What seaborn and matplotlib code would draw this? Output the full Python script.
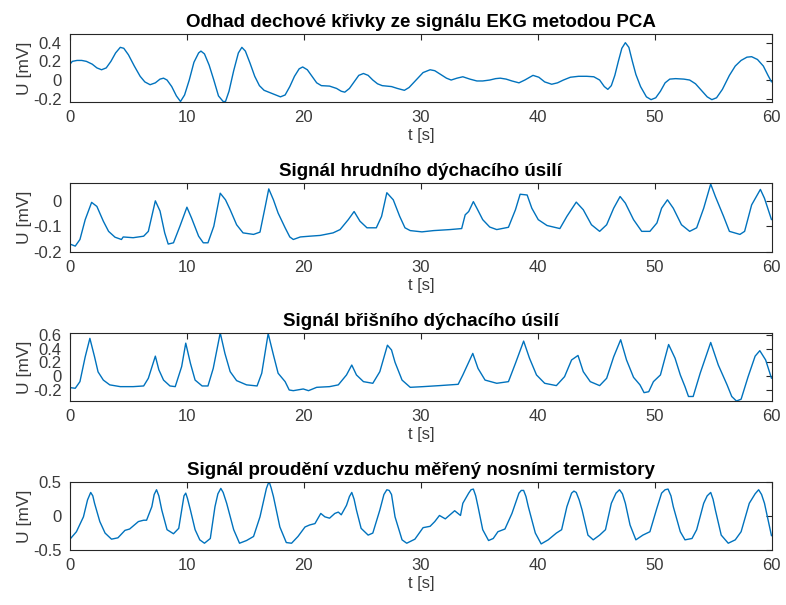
import matplotlib
matplotlib.use("Agg")
import matplotlib.pyplot as plt
import seaborn as sns
import pandas as pd

# --- breathing curve estimated from ECG (PCA) ---
t1 = [
    0.0, 0.2, 0.6, 1.0, 1.4, 1.9, 2.3, 2.7, 3.1, 3.5,
    3.9, 4.3, 4.6, 5.0, 5.5, 6.0, 6.4, 6.85, 7.3, 7.7,
    8.0, 8.3, 8.7, 9.1, 9.45, 9.8, 10.2, 10.6, 11.0, 11.2,
    11.5, 11.9, 12.3, 12.7, 13.1, 13.3, 13.6, 14.0, 14.4, 14.7,
    15.0, 15.4, 15.8, 16.2, 16.6, 17.1, 17.6, 18.0, 18.4, 18.8,
    19.2, 19.6, 19.9, 20.3, 20.7, 21.1, 21.5, 22.2, 22.8, 23.2,
    23.5, 23.9, 24.3, 24.7, 25.1, 25.5, 25.9, 26.3, 26.7, 27.5,
    28.0, 28.6, 29.0, 29.6, 30.2, 30.8, 31.2, 31.7, 32.2, 32.6,
    33.1, 33.6, 34.2, 34.8, 35.3, 35.9, 36.4, 36.8, 37.3, 37.8,
    38.4, 38.9, 39.6, 40.1, 40.6, 41.2, 41.7, 42.2, 42.8, 43.5,
    44.2, 44.8, 45.3, 45.7, 46.0, 46.3, 46.6, 46.9, 47.2, 47.5,
    47.8, 48.1, 48.4, 48.8, 49.3, 49.7, 50.1, 50.5, 50.9, 51.3,
    51.8, 52.5, 53.0, 53.5, 54.0, 54.5, 54.9, 55.3, 55.8, 56.4,
    56.9, 57.4, 57.9, 58.3, 58.8, 59.3, 59.7, 60.0]
u1 = [
    0.17, 0.2, 0.21, 0.21, 0.2, 0.17, 0.13, 0.11, 0.13, 0.2,
    0.29, 0.35, 0.34, 0.27, 0.15, 0.04, -0.02, -0.05, -0.03, 0.01,
    0.02, 0.0, -0.07, -0.17, -0.23, -0.16, 0.0, 0.19, 0.29, 0.31,
    0.28, 0.16, 0.0, -0.17, -0.23, -0.23, -0.12, 0.1, 0.29, 0.35,
    0.31, 0.18, 0.04, -0.06, -0.11, -0.135, -0.16, -0.18, -0.16, -0.07,
    0.04, 0.12, 0.14, 0.11, 0.04, -0.03, -0.06, -0.065, -0.09, -0.12,
    -0.13, -0.09, -0.02, 0.05, 0.07, 0.05, 0.0, -0.04, -0.06, -0.07,
    -0.09, -0.11, -0.08, 0.0, 0.08, 0.11, 0.1, 0.06, 0.02, 0.0,
    0.02, 0.035, 0.01, -0.01, -0.01, 0.0, 0.015, 0.02, 0.01, -0.01,
    -0.03, 0.0, 0.05, 0.03, -0.02, -0.045, -0.03, 0.0, 0.03, 0.04,
    0.04, 0.035, 0.0, -0.07, -0.1, -0.06, 0.05, 0.2, 0.34, 0.40,
    0.35, 0.2, 0.06, -0.07, -0.18, -0.21, -0.19, -0.12, -0.03, 0.01,
    0.015, 0.01, 0.0, -0.04, -0.11, -0.18, -0.21, -0.19, -0.1, 0.05,
    0.15, 0.21, 0.245, 0.25, 0.22, 0.15, 0.05, -0.02]

# --- thoracic respiratory effort ---
t2 = [
    0.0, 0.45, 0.85, 1.3, 1.85, 2.3, 2.85, 3.3, 3.85, 4.4,
    4.55, 5.4, 6.3, 6.7, 7.3, 7.7, 8.1, 8.4, 8.85, 9.4,
    10.0, 10.4, 11.0, 11.4, 11.8, 12.3, 12.85, 13.3, 13.7, 14.25,
    14.8, 15.7, 16.25, 16.7, 17.0, 17.4, 17.8, 18.4, 18.8, 19.1,
    19.7, 20.5, 21.4, 22.5, 23.1, 23.8, 24.3, 24.8, 25.4, 26.2,
    26.65, 27.1, 27.65, 28.2, 28.65, 29.1, 30.1, 31.1, 32.5, 33.5,
    33.8, 34.1, 34.5, 34.8, 35.3, 35.9, 36.5, 37.5, 38.1, 38.5,
    39.1, 39.5, 40.05, 40.8, 41.9, 42.5, 43.3, 43.9, 44.6, 45.3,
    45.9, 46.5, 47.05, 47.5, 48.2, 48.9, 49.6, 50.2, 50.6, 51.1,
    51.6, 52.3, 53.0, 53.6, 54.2, 54.8, 55.2, 55.9, 56.4, 57.3,
    57.7, 58.3, 59.05, 59.4, 60.0]
u2 = [
    -0.17, -0.178, -0.152, -0.074, -0.006, -0.022, -0.08, -0.12, -0.143, -0.152,
    -0.142, -0.145, -0.139, -0.12, 0.0, -0.04, -0.126, -0.17, -0.165, -0.1,
    -0.025, -0.068, -0.139, -0.165, -0.165, -0.1, 0.03, 0.004, -0.035, -0.094,
    -0.126, -0.132, -0.123, -0.022, 0.047, 0.004, -0.048, -0.106, -0.142, -0.152,
    -0.142, -0.139, -0.136, -0.126, -0.113, -0.074, -0.042, -0.08, -0.106, -0.106,
    -0.061, 0.032, 0.004, -0.061, -0.106, -0.117, -0.122, -0.117, -0.113, -0.109,
    -0.055, -0.042, -0.003, -0.029, -0.074, -0.103, -0.113, -0.104, -0.035, 0.026,
    0.023, -0.029, -0.074, -0.097, -0.109, -0.061, -0.005, -0.035, -0.094, -0.12,
    -0.094, -0.029, 0.017, -0.009, -0.074, -0.12, -0.12, -0.087, -0.029, 0.004,
    -0.029, -0.094, -0.12, -0.106, -0.029, 0.066, 0.017, -0.061, -0.12, -0.132,
    -0.12, -0.016, 0.045, 0.01, -0.074]

# --- abdominal respiratory effort ---
t3 = [
    0.0, 0.45, 0.85, 1.3, 1.7, 2.1, 2.4, 2.85, 3.4, 4.3,
    5.4, 6.3, 6.7, 7.3, 7.6, 8.0, 8.55, 9.0, 9.55, 9.9,
    10.3, 10.7, 11.3, 11.8, 12.25, 12.85, 13.25, 13.7, 14.25, 15.1,
    16.0, 16.4, 16.95, 17.4, 17.8, 18.4, 18.75, 19.1, 19.95, 20.4,
    21.1, 22.2, 22.95, 23.65, 24.1, 24.5, 25.1, 25.9, 26.5, 27.15,
    27.5, 27.8, 28.4, 29.1, 30.2, 31.6, 33.2, 33.6, 34.45, 34.9,
    35.5, 36.5, 37.5, 38.1, 38.8, 39.3, 39.9, 40.6, 41.6, 42.3,
    42.9, 43.45, 43.9, 44.5, 45.3, 45.9, 46.5, 47.1, 47.6, 48.2,
    48.75, 49.1, 49.5, 49.9, 50.5, 51.2, 51.75, 52.2, 52.6, 52.9,
    53.3, 53.9, 54.8, 55.45, 56.2, 56.6, 57.0, 57.4, 58.0, 58.6,
    59.0, 59.5, 60.0]
u3 = [
    -0.17, -0.18, -0.083, 0.28, 0.55, 0.28, 0.06, -0.06, -0.13, -0.156,
    -0.156, -0.146, -0.034, 0.29, 0.09, -0.06, -0.146, -0.156, 0.137, 0.48,
    0.185, -0.06, -0.146, -0.146, 0.11, 0.63, 0.33, 0.063, -0.068, -0.13,
    -0.146, 0.04, 0.62, 0.307, 0.04, -0.083, -0.205, -0.215, -0.19, -0.215,
    -0.166, -0.156, -0.13, 0.015, 0.16, 0.015, -0.083, -0.107, 0.063, 0.45,
    0.38, 0.2, -0.06, -0.166, -0.156, -0.141, -0.122, 0.015, 0.33, 0.11,
    -0.06, -0.107, -0.083, 0.185, 0.51, 0.26, 0.015, -0.107, -0.141, -0.01,
    0.234, 0.30, 0.063, -0.083, -0.141, -0.034, 0.28, 0.53, 0.234, -0.02,
    -0.13, -0.244, -0.23, -0.083, 0.015, 0.46, 0.26, 0.015, -0.156, -0.3,
    -0.3, 0.04, 0.49, 0.16, -0.13, -0.3, -0.366, -0.34, -0.01, 0.29,
    0.37, 0.234, -0.034]

# --- nasal thermistor airflow ---
t4 = [
    0.0, 0.55, 1.15, 1.5, 1.77, 1.95, 2.1, 2.55, 3.0, 3.55,
    4.1, 4.7, 5.1, 5.85, 6.3, 6.55, 7.0, 7.2, 7.4, 7.6,
    7.85, 8.3, 8.85, 9.3, 9.55, 9.75, 9.9, 10.05, 10.3, 10.7,
    11.1, 11.5, 12.0, 12.4, 12.65, 12.9, 13.1, 13.4, 14.0, 14.5,
    15.1, 15.7, 16.25, 16.8, 16.95, 17.05, 17.2, 17.4, 17.95, 18.5,
    18.95, 19.5, 20.1, 20.5, 20.95, 21.45, 21.8, 22.2, 22.65, 22.95,
    23.2, 23.65, 23.9, 24.1, 24.3, 24.5, 24.9, 25.5, 25.9, 26.5,
    26.85, 27.1, 27.3, 27.5, 27.8, 28.4, 28.8, 29.5, 30.2, 30.8,
    31.2, 31.6, 32.1, 32.5, 32.9, 33.4, 33.6, 34.1, 34.3, 34.5,
    34.7, 34.9, 35.3, 35.8, 36.2, 36.6, 37.2, 37.8, 38.4, 38.6,
    38.8, 39.0, 39.2, 39.8, 40.3, 40.9, 41.6, 42.05, 42.5, 42.9,
    43.1, 43.3, 43.55, 43.8, 44.3, 44.75, 45.3, 45.8, 46.3, 46.7,
    47.0, 47.25, 47.5, 47.9, 48.4, 49.0, 49.6, 50.2, 50.6, 50.9,
    51.15, 51.4, 51.6, 52.2, 52.6, 53.2, 53.6, 54.2, 54.5, 54.8,
    55.0, 55.2, 55.7, 56.3, 56.9, 57.4, 58.1, 58.6, 58.9, 59.15,
    59.4, 60.0]
u4 = [
    -0.34, -0.23, -0.01, 0.24, 0.35, 0.3, 0.19, -0.08, -0.25, -0.34,
    -0.32, -0.21, -0.19, -0.08, -0.06, -0.06, 0.14, 0.32, 0.39, 0.3,
    0.09, -0.2, -0.26, -0.18, 0.09, 0.3, 0.34, 0.26, 0.09, -0.2,
    -0.35, -0.4, -0.33, 0.14, 0.33, 0.41, 0.35, 0.19, -0.2, -0.4,
    -0.36, -0.3, -0.01, 0.41, 0.48, 0.5, 0.42, 0.29, -0.16, -0.39,
    -0.4, -0.3, -0.16, -0.13, -0.11, 0.04, -0.01, -0.03, 0.04, 0.06,
    0.02, 0.16, 0.29, 0.35, 0.25, 0.09, -0.18, -0.28, -0.25, 0.09,
    0.32, 0.39, 0.38, 0.32, -0.01, -0.35, -0.4, -0.34, -0.17, -0.15,
    -0.08, 0.01, -0.04, 0.02, 0.08, 0.01, 0.19, 0.34, 0.39, 0.4,
    0.3, 0.14, -0.2, -0.36, -0.33, -0.23, -0.19, 0.04, 0.34, 0.38,
    0.38, 0.29, 0.14, -0.25, -0.41, -0.35, -0.25, -0.2, 0.14, 0.34,
    0.37, 0.35, 0.24, 0.09, -0.28, -0.35, -0.28, -0.2, 0.19, 0.34,
    0.39, 0.33, 0.19, -0.13, -0.35, -0.28, -0.23, 0.12, 0.34, 0.39,
    0.4, 0.3, 0.14, -0.23, -0.35, -0.33, -0.2, 0.19, 0.3, 0.35,
    0.25, 0.09, -0.28, -0.4, -0.35, -0.23, 0.19, 0.33, 0.39, 0.32,
    0.19, -0.29]

titles = [
    "Odhad dechové křivky ze signálu EKG metodou PCA",
    "Signál hrudního dýchacího úsilí",
    "Signál břišního dýchacího úsilí",
    "Signál proudění vzduchu měřený nosními termistory",
]
x_ticks = [0, 10, 20, 30, 40, 50, 60]
y_ticks = [
    [-0.2, 0, 0.2, 0.4],
    [-0.2, -0.1, 0],
    [-0.2, 0, 0.2, 0.4, 0.6],
    [-0.5, 0, 0.5],
]
y_tick_labels = [
    ["-0.2", "0", "0.2", "0.4"],
    ["-0.2", "-0.1", "0"],
    ["-0.2", "0", "0.2", "0.4", "0.6"],
    ["-0.5", "0", "0.5"],
]
y_limits = [(-0.232, 0.493), (-0.199, 0.069), (-0.366, 0.624), (-0.5, 0.5)]
x_label = "t [s]"
y_label = "U [mV]"

series = [(t1, u1), (t2, u2), (t3, u3), (t4, u4)]

sns.set_theme(style="white")
plt.rcParams["font.family"] = ["Liberation Sans", "DejaVu Sans"]

LINE = "#0072BD"
INK = "#262626"
LABEL = "#3a3a3a"

fig = plt.figure(figsize=(7.86, 6.05), dpi=100)
fig.patch.set_facecolor("white")

W_PX, H_PX = 786.0, 605.0
left, right = 70.0, 771.5
boxes = [(34.0, 101.7), (183.3, 251.7), (333.3, 401.0), (482.3, 550.0)]

for i, (t, u) in enumerate(series):
    top, bottom = boxes[i]
    ax = fig.add_axes([left / W_PX, 1 - bottom / H_PX,
                       (right - left) / W_PX, (bottom - top) / H_PX])
    df = pd.DataFrame({"t": t, "u": u})
    sns.lineplot(data=df, x="t", y="u", ax=ax, color=LINE, linewidth=1.0,
                 estimator=None, sort=False)
    ax.set_xlim(0, 60)
    ax.set_ylim(*y_limits[i])
    ax.set_xticks(x_ticks)
    ax.set_xticklabels([str(v) for v in x_ticks])
    ax.set_yticks(y_ticks[i])
    ax.set_yticklabels(y_tick_labels[i])
    ax.tick_params(direction="in", top=True, right=True, length=4,
                   width=0.8, color=INK, labelcolor=LABEL, labelsize=12)
    ax.tick_params(axis="x", pad=6)
    ax.tick_params(axis="y", pad=6)
    for sp in ax.spines.values():
        sp.set_color(INK)
        sp.set_linewidth(0.8)
        sp.set_visible(True)
    ax.set_facecolor("white")
    ax.set_xlabel(x_label, fontsize=12, color=LABEL, labelpad=2)
    ax.set_ylabel(y_label, fontsize=12.5, color=LABEL)
    ax.yaxis.set_label_coords(-0.054, 0.5)
    ax.set_title(titles[i], fontsize=13.5, fontweight="bold", color="black", pad=5)

fig.savefig("out.png", dpi=100, facecolor="white")
